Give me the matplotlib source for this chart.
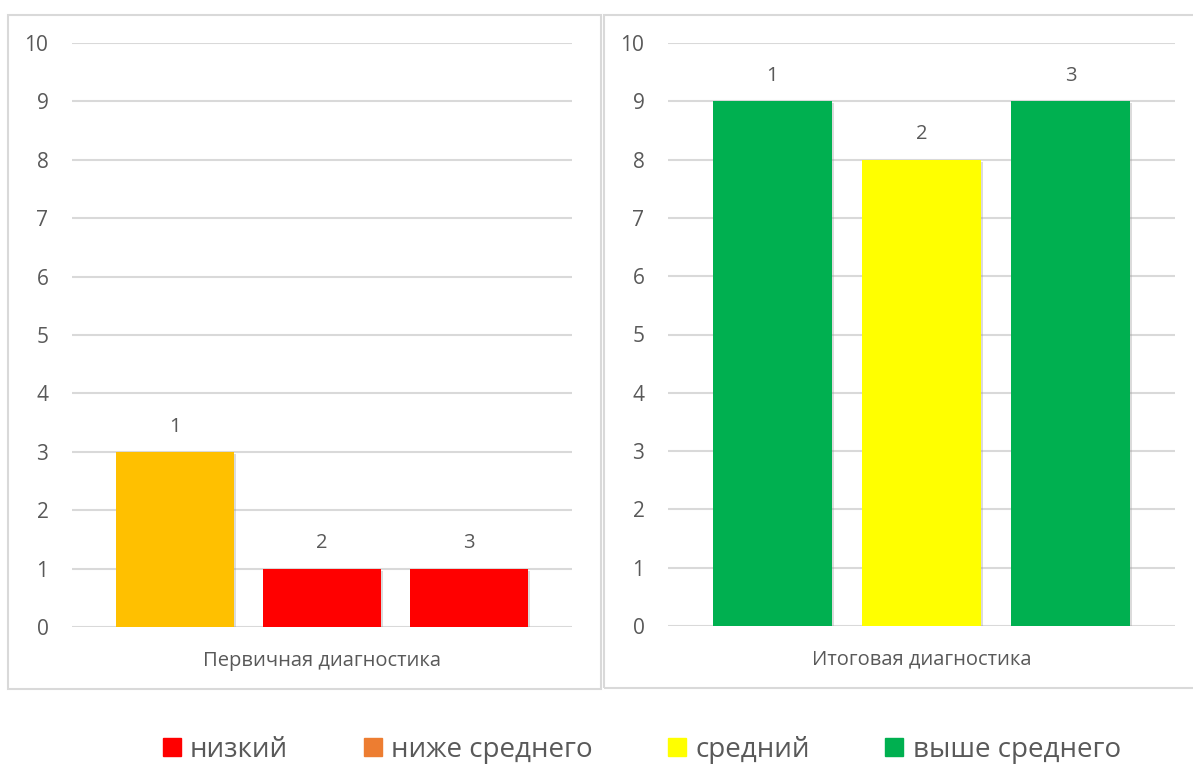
import matplotlib
matplotlib.use("Agg")
import matplotlib.pyplot as plt
from matplotlib.patches import Rectangle
from matplotlib.lines import Line2D
import matplotlib.patheffects as pe

# ---- data ----
bar_labels = ["1", "2", "3"]
left_title = "Первичная диагностика"
left_values = [3, 1, 1]
left_colors = ["#FFC000", "#FF0000", "#FF0000"]
right_title = "Итоговая диагностика"
right_values = [9, 8, 9]
right_colors = ["#00B050", "#FFFF00", "#00B050"]
legend_labels = ["низкий", "ниже среднего", "средний", "выше среднего"]
legend_colors = ["#FF0000", "#ED7D31", "#FFFF00", "#00B050"]
y_ticks = list(range(0, 11))

W, H = 1193, 767
TEXT = "#595959"
GRID = "#D9D9D9"
FONT = ["Open Sans", "DejaVu Sans"]
plt.rcParams["font.family"] = FONT

fig = plt.figure(figsize=(W / 100, H / 100), dpi=100)


def frac(x0, y0, x1, y1):
    return [x0 / W, 1 - y1 / H, (x1 - x0) / W, (y1 - y0) / H]


# panel borders
for (x0, y0, x1, y1) in [(8, 15, 601, 689), (604, 15, 1200, 688)]:
    fig.patches.append(Rectangle((x0 / W, 1 - y1 / H), (x1 - x0) / W, (y1 - y0) / H,
                                 transform=fig.transFigure, fill=False,
                                 edgecolor=GRID, linewidth=1.5))


def panel(rect, values, colors, title):
    ax = fig.add_axes(rect)
    x = list(range(len(values)))
    bars = ax.bar(x, values, width=0.80, color=colors, zorder=3)
    for b in bars:
        b.set_path_effects([pe.SimplePatchShadow(offset=(1.5, -1.5), shadow_rgbFace="#999999", alpha=0.35),
                            pe.Normal()])
    ax.bar_label(bars, labels=bar_labels, padding=11, fontsize=14.5, color=TEXT)
    ax.set_ylim(0, 10)
    ax.set_xlim(-0.70, 2.70)
    ax.set_yticks(y_ticks)
    ax.yaxis.grid(True, color=GRID, linewidth=1.5, zorder=0)
    ax.set_axisbelow(True)
    for s in ax.spines.values():
        s.set_visible(False)
    ax.tick_params(axis="y", length=0, pad=17, labelsize=15, labelcolor=TEXT)
    ax.set_xticks([1], [title])
    ax.tick_params(axis="x", length=0, pad=17, labelsize=14.5, labelcolor=TEXT)
    return ax


panel(frac(72, 43, 572, 627), left_values, left_colors, left_title)
panel(frac(668, 43, 1175, 626), right_values, right_colors, right_title)

handles = [Line2D([], [], linestyle="none", marker="s", markersize=13,
                  markerfacecolor=c, markeredgecolor=c) for c in legend_colors]
fig.legend(handles, legend_labels, loc="center", bbox_to_anchor=(640 / W, 1 - 750 / H),
           ncol=4, frameon=False, fontsize=20, handletextpad=0.2, columnspacing=2.6,
           handlelength=0.9, labelcolor=TEXT)

fig.savefig("out.png", dpi=100, facecolor="white")
